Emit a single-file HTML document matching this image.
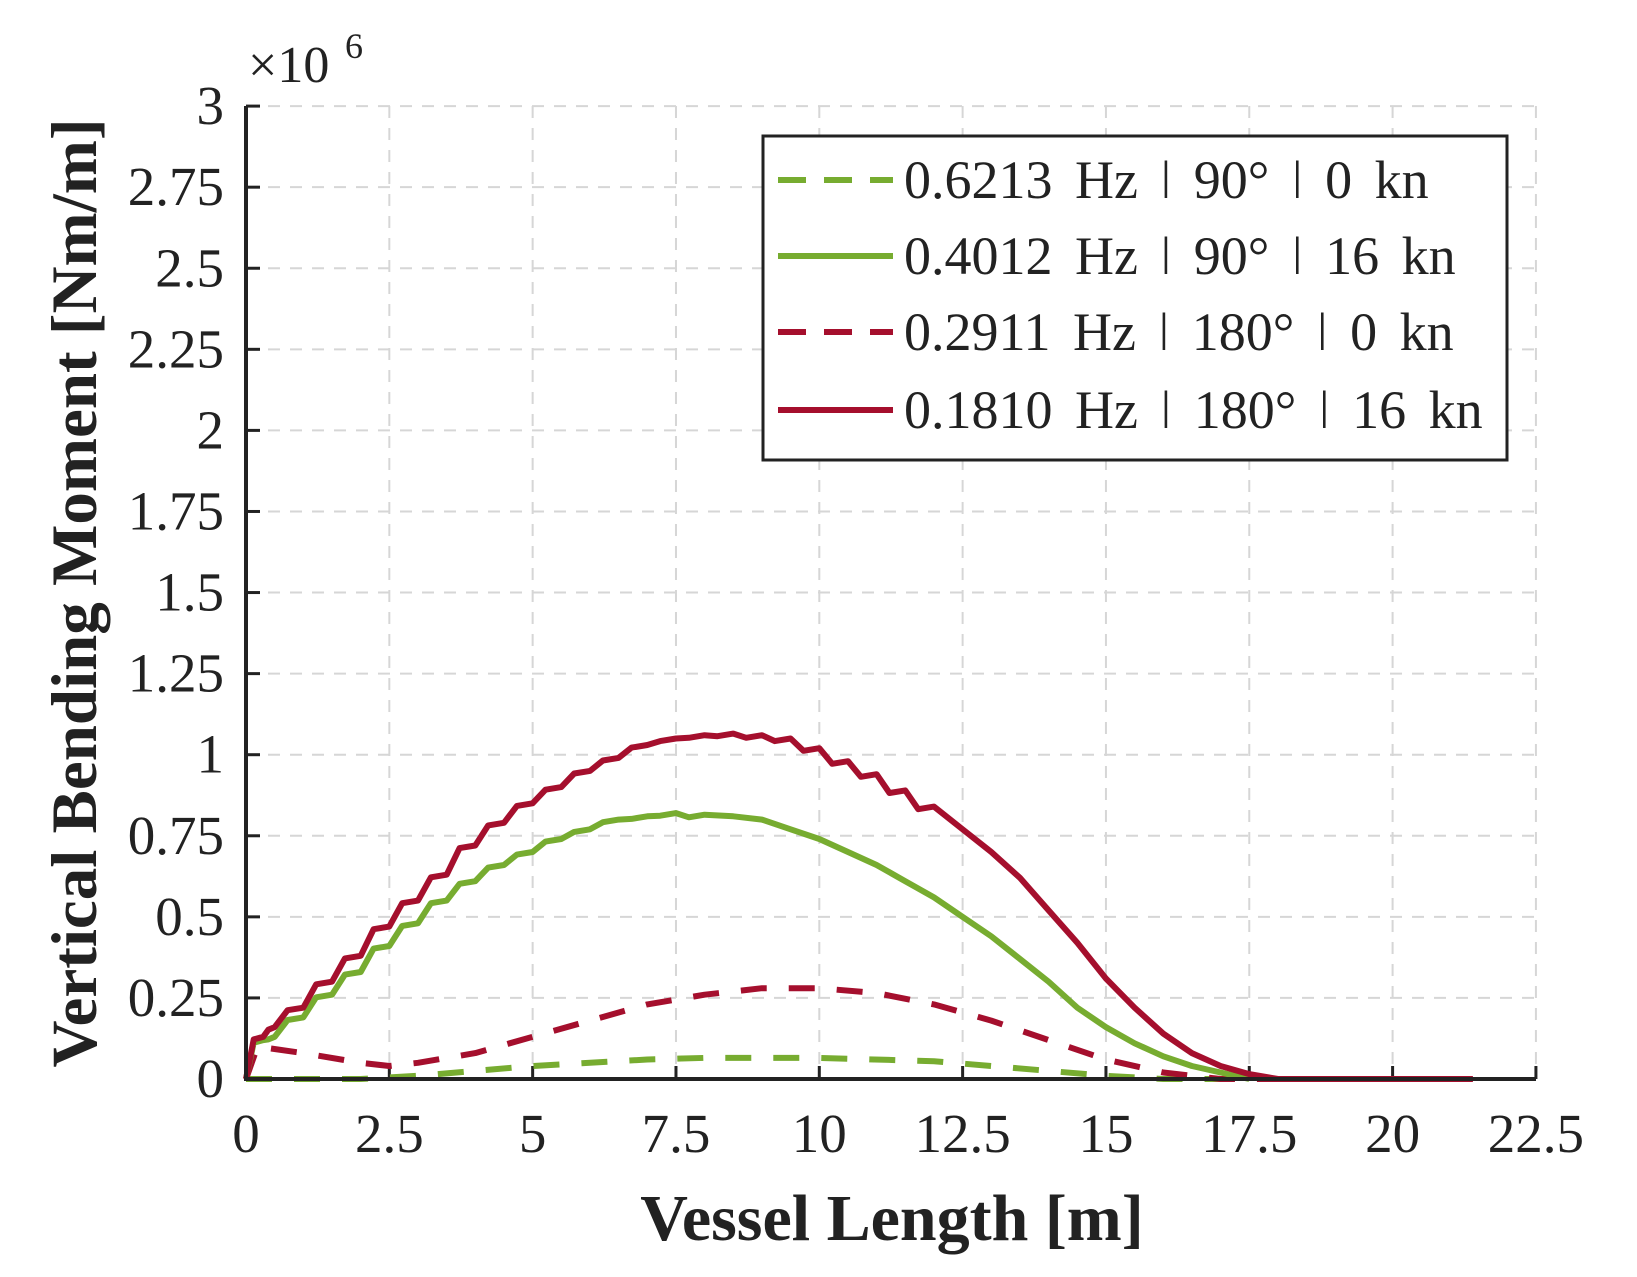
<!DOCTYPE html>
<html><head><meta charset="utf-8"><style>
html,body{margin:0;padding:0;background:#fff;}
svg{display:block;}
text{font-family:"Liberation Serif",serif;fill:#222;}
</style></head><body>
<svg id="s" width="1637" height="1277" viewBox="0 0 1637 1277" xmlns="http://www.w3.org/2000/svg">
<rect width="1637" height="1277" fill="#fff"/>
<g id="grid" stroke="#d6d6d6" stroke-width="2" stroke-dasharray="12 10"></g>
<g id="ticks" stroke="#222" stroke-width="3"></g>
<g id="labels" font-size="55"></g>
<g id="series" fill="none" stroke-width="6" stroke-linejoin="round"></g>
<line x1="246" y1="106" x2="246" y2="1080" stroke="#222" stroke-width="4"/>
<line x1="244" y1="1079" x2="1536" y2="1079" stroke="#222" stroke-width="4"/>
<text x="248" y="82" font-size="52">×10</text>
<text x="345" y="58" font-size="36">6</text>
<text x="892" y="1240" font-size="66" font-weight="bold" text-anchor="middle">Vessel Length [m]</text>
<text transform="translate(96,593) rotate(-90)" font-size="65" font-weight="bold" text-anchor="middle">Vertical Bending Moment [Nm/m]</text>
<rect x="763" y="136" width="744" height="324" fill="#fff" stroke="#222" stroke-width="3"/>
<g font-size="54" word-spacing="9">
<line x1="778" y1="180" x2="893" y2="180" stroke="#77ac30" stroke-width="6" stroke-dasharray="28 18"/>
<text x="904" y="198">0.6213 Hz ǀ 90° ǀ 0 kn</text>
<line x1="778" y1="256" x2="893" y2="256" stroke="#77ac30" stroke-width="6"/>
<text x="904" y="274">0.4012 Hz ǀ 90° ǀ 16 kn</text>
<line x1="778" y1="332" x2="893" y2="332" stroke="#a50f2d" stroke-width="6" stroke-dasharray="28 18"/>
<text x="904" y="350">0.2911 Hz ǀ 180° ǀ 0 kn</text>
<line x1="778" y1="410" x2="893" y2="410" stroke="#a50f2d" stroke-width="6"/>
<text x="904" y="428">0.1810 Hz ǀ 180° ǀ 16 kn</text>
</g>
</svg>
<script>
var NS="http://www.w3.org/2000/svg";
function X(v){return 246+v*57.33;}function Y(v){return 1079-v*324.3;}
function el(p,t,a,txt){var e=document.createElementNS(NS,t);for(var k in a)e.setAttribute(k,a[k]);if(txt!==undefined)e.textContent=txt;document.getElementById(p).appendChild(e);}
for(var i=1;i<=9;i++){var x=X(i*2.5);el("grid","line",{x1:x,y1:106,x2:x,y2:1079});el("ticks","line",{x1:x,y1:1079,x2:x,y2:1066});}
for(var j=1;j<=12;j++){var y=Y(j*0.25);el("grid","line",{x1:246,y1:y,x2:1536,y2:y});el("ticks","line",{x1:246,y1:y,x2:260,y2:y});}
for(var i=0;i<=9;i++){el("labels","text",{x:X(i*2.5),y:1152,"text-anchor":"middle"},String(i*2.5));}
for(var j=0;j<=12;j++){el("labels","text",{x:224,y:Y(j*0.25)+18,"text-anchor":"end"},String(j*0.25));}
function path(pts,col,dash){var d="";pts.forEach(function(p,i){d+=(i?"L":"M")+X(p[0]).toFixed(1)+" "+Y(p[1]).toFixed(1);});var a={d:d,stroke:col};if(dash)a["stroke-dasharray"]=dash;el("series","path",a);}
path([[0,0],[2,0],[3,0.01],[4,0.025],[5,0.04],[6,0.05],[7,0.06],[8,0.065],[10,0.065],[12,0.055],[13,0.04],[14,0.025],[15,0.01],[16,0],[17.5,0]],"#77ac30","26 22");
path([[0,0],[0.2,0.1],[1,0.08],[2,0.05],[2.5,0.04],[3,0.05],[4,0.08],[5,0.13],[6,0.18],[7,0.23],[8,0.26],[9,0.28],[10,0.28],[11,0.265],[12,0.23],[13,0.18],[14,0.12],[15,0.06],[16,0.02],[17,0],[18,0]],"#a50f2d","26 22");
function stepify(pts,lim){var o=[];for(var i=0;i<pts.length;i++){o.push(pts[i]);if(i+1<pts.length&&pts[i][0]<lim){var n=pts[i+1];o.push([pts[i][0]+(n[0]-pts[i][0])*0.45,n[1]-0.008]);}}return o;}
path(stepify([[0,0],[0.3,0.12],[0.5,0.13],[1,0.19],[1.5,0.26],[2,0.33],[2.5,0.41],[3,0.48],[3.5,0.55],[4,0.61],[4.5,0.66],[5,0.7],[5.5,0.74],[6,0.77],[6.5,0.8],[7,0.81],[7.5,0.82],[8,0.815],[8.5,0.81],[9,0.8],[9.5,0.77],[10,0.74],[10.5,0.7],[11,0.66],[11.5,0.61],[12,0.56],[12.5,0.5],[13,0.44],[13.5,0.37],[14,0.3],[14.5,0.22],[15,0.16],[15.5,0.11],[16,0.07],[16.5,0.04],[17,0.02],[17.5,0]],8),"#77ac30");
path(stepify([[0,0],[0.3,0.13],[0.5,0.16],[1,0.22],[1.5,0.3],[2,0.38],[2.5,0.47],[3,0.55],[3.5,0.63],[4,0.72],[4.5,0.79],[5,0.85],[5.5,0.9],[6,0.95],[6.5,0.99],[7,1.03],[7.5,1.05],[8,1.06],[8.5,1.065],[9,1.06],[9.5,1.05],[10,1.02],[10.5,0.98],[11,0.94],[11.5,0.89],[12,0.84],[12.5,0.77],[13,0.7],[13.5,0.62],[14,0.52],[14.5,0.42],[15,0.31],[15.5,0.22],[16,0.14],[16.5,0.08],[17,0.04],[17.5,0.015],[18,0],[21.4,0]],12),"#a50f2d");
</script>
</body></html>
